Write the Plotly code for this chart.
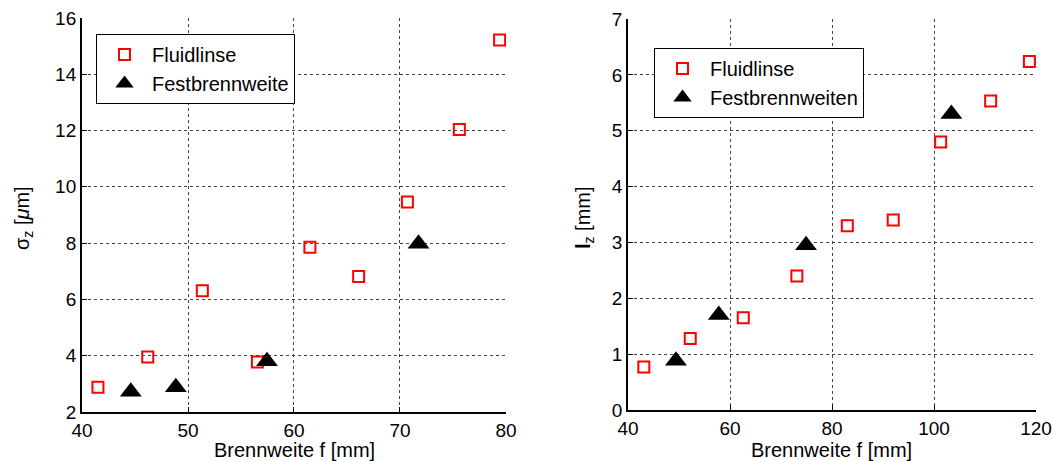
import plotly.graph_objects as go

# Left panel data
fl_left_x = [41.5, 46.2, 51.35, 56.55, 61.5, 66.1, 70.7, 75.6, 79.4]
fl_left_y = [2.88, 3.95, 6.31, 3.78, 7.85, 6.81, 9.46, 12.04, 15.22]
fb_left_x = [44.6, 48.85, 57.45, 71.75]
fb_left_y = [2.72, 2.88, 3.8, 7.98]

# Right panel data
fl_right_x = [43.1, 52.2, 62.6, 73.1, 83.0, 92.0, 101.3, 111.1, 118.7]
fl_right_y = [0.77, 1.28, 1.65, 2.40, 3.30, 3.40, 4.80, 5.53, 6.24]
fb_right_x = [49.4, 57.8, 74.9, 103.4]
fb_right_y = [0.88, 1.70, 2.95, 5.30]

left_xticks = [40, 50, 60, 70, 80]
left_yticks = [2, 4, 6, 8, 10, 12, 14, 16]
right_xticks = [40, 60, 80, 100, 120]
right_yticks = [0, 1, 2, 3, 4, 5, 6, 7]

FONT = "Liberation Sans"
W, H = 1053, 461
sq = dict(symbol="square-open", size=11, color="#ff0000", line=dict(width=2, color="#ff0000"))
tri = dict(symbol="triangle-up", size=19, color="black")

fig = go.Figure()
fig.add_trace(go.Scatter(x=fl_left_x, y=fl_left_y, mode="markers", marker=sq,
                         name="Fluidlinse", xaxis="x", yaxis="y", legend="legend"))
fig.add_trace(go.Scatter(x=fb_left_x, y=fb_left_y, mode="markers", marker=tri,
                         name="Festbrennweite", xaxis="x", yaxis="y", legend="legend"))
fig.add_trace(go.Scatter(x=fl_right_x, y=fl_right_y, mode="markers", marker=sq,
                         name="Fluidlinse", xaxis="x2", yaxis="y2", legend="legend2"))
fig.add_trace(go.Scatter(x=fb_right_x, y=fb_right_y, mode="markers", marker=tri,
                         name="Festbrennweiten", xaxis="x2", yaxis="y2", legend="legend2"))

axis_common = dict(
    showgrid=True, gridcolor="#444", griddash="dot", gridwidth=1,
    showline=True, linecolor="black", linewidth=2,
    ticks="inside", ticklen=5, tickcolor="black",
    tickfont=dict(family=FONT, size=19, color="black"),
    zeroline=False, automargin=False,
)

legend_common = dict(
    bgcolor="white", bordercolor="black", borderwidth=1,
    font=dict(family=FONT, size=20, color="black"),
    xanchor="left", yanchor="top", tracegroupgap=0, itemsizing="trace",
    itemwidth=45,
)

title_font = dict(family=FONT, size=20, color="black")

annotations = [
    dict(text="Brennweite f [mm]", x=294 / W, y=1 - 450 / H),
    dict(text="Brennweite f [mm]", x=831 / W, y=1 - 450 / H),
    dict(text="σ<sub>z</sub> [<i>μ</i>m]", x=23 / W, y=1 - 218 / H, textangle=-90),
    dict(text="<b>l</b><sub>z</sub> [mm]", x=584 / W, y=1 - 218 / H, textangle=-90),
]
for a in annotations:
    a.update(xref="paper", yref="paper", xanchor="center", yanchor="middle",
             showarrow=False, font=title_font)

fig.update_layout(
    width=W, height=H,
    margin=dict(l=0, r=0, t=0, b=0),
    paper_bgcolor="white", plot_bgcolor="white",
    font=dict(family=FONT, size=20, color="black"),
    xaxis=dict(domain=[0.0779, 0.4805], range=[40, 80], tickvals=left_xticks,
               anchor="y", **axis_common),
    yaxis=dict(domain=[0.1063, 0.961], range=[2, 16], tickvals=left_yticks,
               anchor="x", **axis_common),
    xaxis2=dict(domain=[0.5964, 0.9839], range=[40, 120], tickvals=right_xticks,
                anchor="y2", **axis_common),
    yaxis2=dict(domain=[0.1106, 0.9588], range=[0, 7], tickvals=right_yticks,
                anchor="x2", **axis_common),
    legend=dict(x=96 / W, y=1 - 34 / H, **legend_common),
    legend2=dict(x=654 / W, y=1 - 48 / H, **legend_common),
    annotations=annotations,
    showlegend=True,
)

fig.write_html("out.html")
